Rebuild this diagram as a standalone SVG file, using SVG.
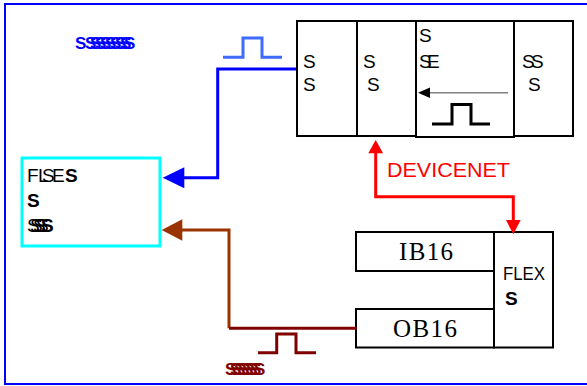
<svg xmlns="http://www.w3.org/2000/svg" width="587" height="386" viewBox="0 0 587 386">
<style>
.t{font-family:"Liberation Sans",Arial,sans-serif;font-size:19px;fill:#000}
.b{font-weight:bold}
.tm{font-family:"Liberation Serif","Times New Roman",serif;font-size:25px;fill:#000}
.box{fill:#fff;stroke:#000;stroke-width:2}
.ln{fill:none;stroke-width:3}
</style>
<rect x="5" y="4" width="590" height="380" fill="#fff" stroke="#0000ff" stroke-width="2"/>
<g id="title">
<text class="t b" x="75 85 90 95 100 105 110 115 120 124" y="48.5" style="font-size:17px;fill:#0000ff">SSSSSSSSSS</text>
</g>
<g id="rack">
<rect class="box" x="297" y="21" width="60" height="115"/>
<rect class="box" x="357" y="21" width="59" height="115"/>
<rect class="box" x="514" y="21" width="59" height="115"/>
<rect class="box" x="416" y="21" width="98" height="116"/>
<text class="t" x="303" y="68">S</text>
<text class="t" x="303" y="91">S</text>
<text class="t" x="363" y="68">S</text>
<text class="t" x="367" y="91">S</text>
<text class="t" x="419" y="42">S</text>
<text class="t" x="419 427" y="68">SE</text>
<text class="t" x="522 531" y="68">SS</text>
<text class="t" x="528" y="91">S</text>
<line x1="508" y1="92.7" x2="428" y2="92.7" stroke="#808080" stroke-width="1.5"/>
<polygon points="418,92.7 430,87.5 430,98" fill="#000"/>
<polyline class="ln" points="432,124 452,124 452,104.5 471,104.5 471,124 490,124" stroke="#000" stroke-width="2.5"/>
</g>
<g id="flex-controller">
<rect x="22" y="158" width="138" height="88" fill="#fff" stroke="#00ffff" stroke-width="3"/>
<text class="t" x="27 38 42 52" y="181.5">FLSE<tspan class="b" x="65">S</tspan></text>
<text class="t b" x="27" y="206.5">S</text>
<text class="t" x="27 30 33 36" y="231.5">SSSS<tspan class="b" x="41">S</tspan></text>
</g>
<g id="ib16">
<rect class="box" x="356" y="232" width="138" height="39"/>
<text class="tm" x="426" y="260" text-anchor="middle" textLength="54">IB16</text>
</g>
<g id="ob16">
<rect class="box" x="356" y="309" width="138" height="38.5"/>
<text class="tm" x="425" y="337" text-anchor="middle" textLength="64">OB16</text>
</g>
<g id="flex-adapter">
<rect class="box" x="494" y="232" width="59" height="115.5"/>
<text class="t" x="503" y="280" textLength="42" lengthAdjust="spacingAndGlyphs">FLEX</text>
<text class="t b" x="505" y="305">S</text>
</g>
<g id="connectors">
<polyline class="ln" points="296,69 217.7,69 217.7,177.7 182,177.7" stroke="#0000ff"/>
<polygon points="162.7,177.7 184.3,167.3 184.3,188.3" fill="#0000ff"/>
<polyline class="ln" points="223,57.3 243,57.3 243,38 262,38 262,57.3 282,57.3" stroke="#3f6bff"/>
<polyline class="ln" points="181,230 229,230 229,328.3" stroke="#993300"/>
<polyline class="ln" points="229,328.3 357,328.3" stroke="#800000"/>
<polygon points="161.7,230 182.3,219.3 182.3,240.7" fill="#993300"/>
<polyline class="ln" points="258,352.7 276.7,352.7 276.7,334 296,334 296,352.7 316,352.7" stroke="#800000"/>
<polyline class="ln" points="375.7,152 375.7,196.7 513.3,196.7 513.3,221" stroke="#ff0000"/>
<polygon points="375.7,140 368.3,153.3 383.1,153.3" fill="#ff0000"/>
<polygon points="513.3,234.3 506,220 520.7,220" fill="#ff0000"/>
</g>
<text class="t" x="387" y="177.3" style="font-size:20px;fill:#ff0000" textLength="123" lengthAdjust="spacingAndGlyphs">DEVICENET</text>
<text class="t b" x="225 230 234 238 242 246 250 254" y="375" style="font-size:17px;fill:#800000">SSSSSSSS</text>
</svg>
